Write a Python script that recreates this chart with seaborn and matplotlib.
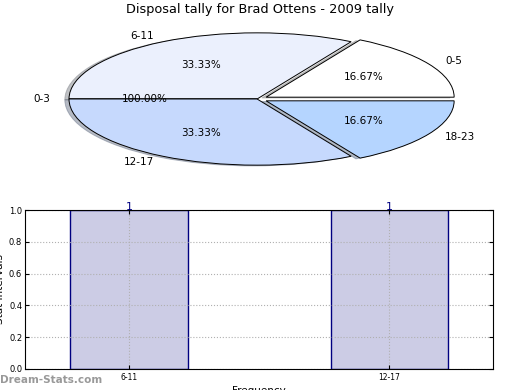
import matplotlib
matplotlib.use("Agg")
import matplotlib.pyplot as plt
import numpy as np
import pandas as pd
import seaborn as sns

# pie data (counter-clockwise from 0 deg)
pie_labels = ["0-5", "6-11", "0-3", "12-17", "18-23"]
pie_values = [1, 2, 0, 2, 1]
pie_pct = ["16.67%", "33.33%", "100.00%", "33.33%", "16.67%"]
pie_colors = ["#FFFFFF", "#EBF0FD", "#FFFFFF", "#C6D9FD", "#B5D5FF"]
pie_explode = [0.055, 0, 0, 0, 0.055]

# bar data
bar_cats = ["6-11", "12-17"]
bar_vals = [1, 1]

sns.set_style("white")
plt.rcParams['font.family'] = ['DejaVu Sans']
plt.rcParams.update({'text.color': 'black', 'axes.labelcolor': 'black',
                     'xtick.color': 'black', 'ytick.color': 'black'})

fig = plt.figure(figsize=[5.2, 3.9], dpi=100)

# pie
ax1 = fig.add_axes([12.6/520, 1-185/390, 489/520, 172/390])
wedges, texts, autotexts = ax1.pie(pie_values, labels=pie_labels, colors=pie_colors,
                                   explode=pie_explode, autopct='%.2f%%',
                                   shadow={'ox': -0.016, 'oy': -0.008, 'shade': 0.45},
                                   startangle=0, counterclock=True,
                                   wedgeprops={'edgecolor': 'black', 'linewidth': 0.7},
                                   textprops={'fontsize': 7.5, 'color': 'black'})
for t, s in zip(autotexts, pie_pct):
    t.set_text(s)
ax1.set_aspect('auto')
ax1.set_xlim(-1.3, 1.3)
ax1.set_ylim(-1.3, 1.3)
ax1.axis('off')
fig.text(0.5, 1-10/390, "Disposal tally for Brad Ottens - 2009 tally",
         ha='center', va='center', fontsize=9.3)

# bars
ax2 = fig.add_axes([25/520, 21/390, 468/520, 159/390])
df = pd.DataFrame({'interval': bar_cats, 'count': bar_vals})
sns.barplot(data=df, x='interval', y='count', ax=ax2, color='#CCCCE5', saturation=1,
            width=0.45, edgecolor='#000080', linewidth=1.0, errorbar=None)
ax2.set_xlim(-0.4, 1.4)
ax2.set_ylim(0, 1.0)
ax2.set_yticks(np.arange(0, 1.01, 0.2))
ax2.yaxis.set_major_formatter(matplotlib.ticker.FormatStrFormatter('%.1f'))
ax2.grid(True, linestyle=':', color='#B0B0B0', linewidth=0.8)
ax2.set_axisbelow(False)
ax2.tick_params(axis='y', labelsize=6, direction='in', length=3, right=True, left=True, pad=2)
ax2.tick_params(axis='x', labelsize=5.5, direction='in', length=3, top=True, bottom=True, pad=3)
for sp in ax2.spines.values():
    sp.set_color('black')
    sp.set_linewidth(0.8)
    sp.set_zorder(5)
ax2.set_ylabel("Stat Intervals", fontsize=7.5, labelpad=3)
ax2.set_xlabel("Frequency", fontsize=7.5, labelpad=3)
for i, v in enumerate(bar_vals):
    ax2.text(i, v + 0.02, str(v), ha='center', va='center', color='#000080', fontsize=8,
             zorder=6, clip_on=False)

fig.text(0, 10/390, "Dream-Stats.com", color='#999999', fontsize=7.5, fontweight='bold',
         ha='left', va='center')

fig.savefig("out.png", dpi=100)
